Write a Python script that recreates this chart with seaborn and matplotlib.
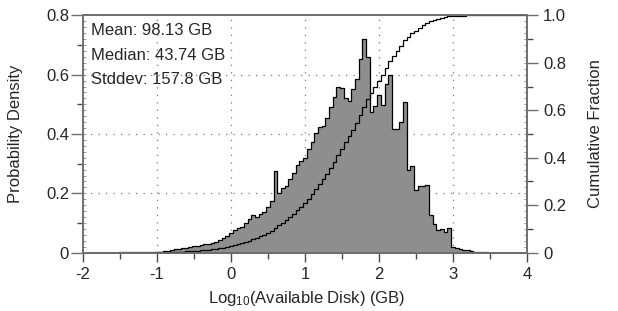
import numpy as np
import pandas as pd
import matplotlib
matplotlib.use("Agg")
import matplotlib.pyplot as plt
from matplotlib.ticker import MultipleLocator, FixedLocator
import seaborn as sns

# ---------------- data ----------------
bin_start = -2.0      # centre of the first bin (log10 GB)
bin_width = 0.05
density = [
    # -2.00 .. -1.55
    0, 0, 0, 0, 0, 0, 0, 0, 0, 0,
    # -1.50 .. -0.05
    0.001, 0.001, 0.001, 0.001, 0.0015, 0.0015, 0.002, 0.002, 0.0025, 0.003,
    0.003, 0.004, 0.005, 0.007, 0.010, 0.012, 0.013, 0.015, 0.016, 0.018,
    0.021, 0.024, 0.026, 0.028, 0.030, 0.033, 0.037, 0.042, 0.048, 0.057,
    # 0.00 .. 0.55
    0.067, 0.076, 0.082, 0.088, 0.099, 0.112, 0.127, 0.121, 0.130, 0.138, 0.153, 0.175,
    # 0.60 .. 1.05
    0.276, 0.200, 0.217, 0.225, 0.247, 0.270, 0.296, 0.310, 0.320, 0.348,
    # 1.10 .. 2.00
    0.374, 0.404, 0.422, 0.427, 0.453, 0.490, 0.526, 0.559, 0.554, 0.520,
    0.511, 0.550, 0.585, 0.652, 0.720, 0.658, 0.475, 0.494, 0.531,
    # 2.05 .. 2.95
    0.498, 0.567, 0.599, 0.417, 0.417, 0.439, 0.507, 0.279, 0.292, 0.211,
    0.224, 0.224, 0.229, 0.127, 0.096, 0.076, 0.079, 0.071, 0.082,
    # 3.00 .. 3.50
    0.020, 0.015, 0.013, 0.010, 0.008, 0.005, 0.004, 0.003, 0.002, 0.001, 0.0005,
    # 3.55 .. 4.00
    0, 0, 0, 0, 0, 0, 0, 0, 0, 0,
]
stats_text = ["Mean: 98.13 GB", "Median: 43.74 GB", "Stddev: 157.8 GB"]
x_ticks = [-2, -1, 0, 1, 2, 3, 4]
y_ticks_left = [0, 0.2, 0.4, 0.6, 0.8]
y_ticks_right = [0, 0.2, 0.4, 0.6, 0.8, 1.0]

# ---------------- setup ----------------
sns.set_theme(style="white")
plt.rcParams["font.family"] = ["Liberation Sans", "DejaVu Sans"]
plt.rcParams["mathtext.fontset"] = "custom"
plt.rcParams["mathtext.rm"] = "Liberation Sans"
plt.rcParams["mathtext.it"] = "Liberation Sans"
plt.rcParams["mathtext.default"] = "regular"

n = len(density)
centers = np.round(bin_start + bin_width * np.arange(n), 4)
binrange = (bin_start - bin_width / 2, bin_start - bin_width / 2 + bin_width * n)
df = pd.DataFrame({"logdisk": centers, "density": density})

fig = plt.figure(figsize=(6.18, 3.11), dpi=100)
ax = fig.add_axes([83 / 618, 1 - 252.7 / 311, 444 / 618, 237.4 / 311])
ax.set_axisbelow(True)

FS = 12
spine_col = "#707070"
tick_col = "#4a4a4a"

# histogram (probability density)
sns.histplot(data=df, x="logdisk", weights="density", binwidth=bin_width,
             binrange=binrange, stat="count",
             element="step", fill=True, facecolor="#8e8e8e", edgecolor="black",
             linewidth=0.9, alpha=1, ax=ax, zorder=2)

ax.set_xlim(-2, 4)
ax.set_ylim(0, 0.8)

# grid (dotted)
for xv in [-1, 0, 1, 2, 3]:
    ax.axvline(xv, color="#777777", lw=0.9, ls=(0, (1, 5)), zorder=0)
for yv in [0.2, 0.4, 0.6]:
    ax.axhline(yv, color="#777777", lw=0.9, ls=(0, (1, 5)), zorder=0)

# cumulative fraction on twin axis
ax2 = ax.twinx()
sns.histplot(data=df, x="logdisk", weights="density", binwidth=bin_width,
             binrange=binrange, stat="proportion",
             cumulative=True, element="step", fill=False, color="black",
             linewidth=0.9, ax=ax2)
ax2.set_ylim(0, 1.0)
ax2.set_xlim(-2, 4)

# ---------------- ticks ----------------
ax.xaxis.set_major_locator(FixedLocator(x_ticks))
ax.xaxis.set_minor_locator(MultipleLocator(0.5))
ax.set_xticklabels([str(t) for t in x_ticks])
ax.yaxis.set_major_locator(FixedLocator(y_ticks_left))
ax.yaxis.set_minor_locator(MultipleLocator(0.1))
ax.set_yticklabels(["0", "0.2", "0.4", "0.6", "0.8"])
ax.tick_params(axis="x", which="major", direction="out", length=6.5, width=1.0,
               color=tick_col, pad=4.0, labelsize=FS, bottom=True, top=False)
ax.tick_params(axis="x", which="minor", direction="out", length=4, width=1.0,
               color=tick_col, bottom=True, top=False)
ax.tick_params(axis="y", which="major", direction="out", length=8.5, width=1.0,
               color=spine_col, pad=1.5, labelsize=FS, left=True, right=False)
ax.tick_params(axis="y", which="minor", direction="out", length=4, width=1.0,
               color=tick_col, left=True, right=False)

ax2.yaxis.set_major_locator(FixedLocator(y_ticks_right))
ax2.yaxis.set_minor_locator(MultipleLocator(0.1))
ax2.set_yticklabels(["0", "0.2", "0.4", "0.6", "0.8", "1.0"])
ax2.tick_params(axis="y", which="major", direction="out", length=8, width=1.0,
                color=spine_col, pad=3.5, labelsize=FS, right=True, left=False)
ax2.tick_params(axis="y", which="minor", direction="out", length=4, width=1.0,
                color=tick_col, right=True, left=False)

# tiny inner ticks
secl = ax.secondary_yaxis("left")
secl.yaxis.set_major_locator(MultipleLocator(0.02))
secl.tick_params(direction="in", length=2, width=0.6, color="#888888", labelleft=False)
secl.spines["left"].set_visible(False)
secr = ax2.secondary_yaxis("right")
secr.yaxis.set_major_locator(MultipleLocator(0.025))
secr.tick_params(direction="in", length=2, width=0.6, color="#888888", labelright=False)
secr.spines["right"].set_visible(False)

for a in (ax, ax2):
    for s in a.spines.values():
        s.set_color(spine_col)
        s.set_linewidth(1.2)

# ---------------- labels ----------------
ax.set_xlabel(r"Log$_{10}$(Available Disk) (GB)", fontsize=FS)
ax.set_ylabel("Probability Density", fontsize=FS)
ax2.set_ylabel("Cumulative Fraction", fontsize=FS, rotation=90)
ax.xaxis.set_label_coords(0.505, -0.152)
ax.yaxis.set_label_coords(-0.1345, 0.5)
ax2.yaxis.set_label_coords(1.137, 0.5)

for i, t in enumerate(stats_text):
    fig.text(91 / 618, 1 - (35 + 24.5 * i) / 311, t, fontsize=FS,
             ha="left", va="baseline")

fig.savefig("out.png", dpi=100)
